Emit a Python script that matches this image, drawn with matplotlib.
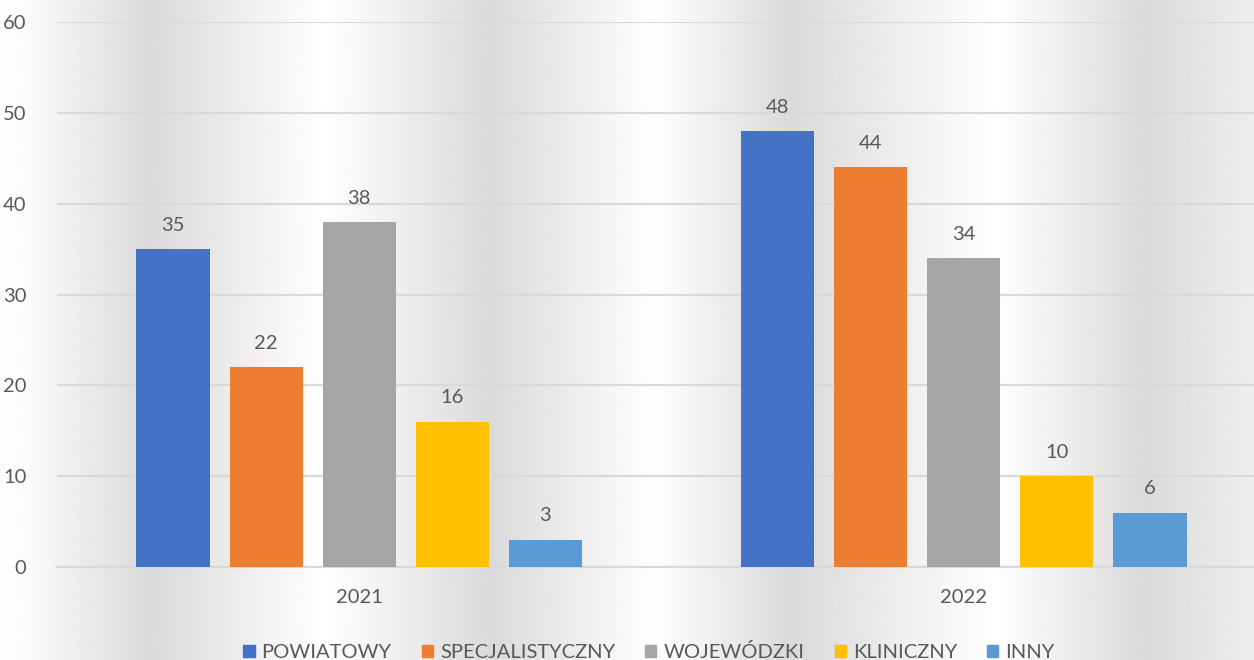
import numpy as np
import matplotlib.pyplot as plt
from matplotlib.patches import Patch

years = ["2021", "2022"]
series = ["POWIATOWY", "SPECJALISTYCZNY", "WOJEWÓDZKI", "KLINICZNY", "INNY"]
powiatowy = [35, 48]
specjalistyczny = [22, 44]
wojewodzki = [38, 34]
kliniczny = [16, 10]
inny = [3, 6]
values = [powiatowy, specjalistyczny, wojewodzki, kliniczny, inny]
colors = ["#4472C4", "#ED7D31", "#A5A5A5", "#FFC000", "#5B9BD5"]

plt.rcParams['font.family'] = ['Lato', 'DejaVu Sans']
txt = "#595959"

fig = plt.figure(figsize=(12.54, 6.6), dpi=100)

# background: vertical grey/white bands
bg = fig.add_axes([0, 0, 1, 1], zorder=-10)
px = np.arange(1254)
ctrl_x = [0, 10, 150, 325, 490, 655, 790, 995, 1145, 1254]
ctrl_v = [252, 255, 218, 255, 218, 255, 218, 255, 218, 238]
shade = np.interp(px, ctrl_x, ctrl_v) / 255.0
img = np.tile(shade, (10, 1))
bg.imshow(img, cmap="gray", vmin=0, vmax=1, aspect="auto", interpolation="bilinear")
bg.axis("off")

ax = fig.add_axes([57 / 1254, 93 / 660, 1 - 57 / 1254, 545 / 660])
ax.patch.set_alpha(0)

x = np.arange(len(years))
step = 0.154
width = 0.121
for i, (name, vals, c) in enumerate(zip(series, values, colors)):
    pos = x + (i - 2) * step
    bars = ax.bar(pos, vals, width, color=c, label=name, zorder=3)
    for b, v in zip(bars, vals):
        ax.annotate(str(v), (b.get_x() + b.get_width() / 2, v), xytext=(0, 11),
                    textcoords="offset points", ha="center", va="bottom",
                    fontsize=14.5, color=txt)

ax.set_xlim(-0.5, 1.48)
ax.set_ylim(0, 60)
ax.set_yticks(range(0, 61, 10))
ax.set_xticks(x)
ax.set_xticklabels(years)
ax.tick_params(axis="both", length=0, labelsize=14.5, labelcolor=txt)
ax.tick_params(axis="x", pad=16)
ax.tick_params(axis="y", pad=22)
for lab in ax.get_yticklabels():
    lab.set_horizontalalignment("right")
ax.grid(axis="y", color="#d9d9d9", linewidth=1.6, zorder=0)
for s in ["top", "right", "left"]:
    ax.spines[s].set_visible(False)
ax.spines["bottom"].set_color("#d9d9d9")
ax.spines["bottom"].set_linewidth(1.6)

handles = [Patch(color=c, label=n) for n, c in zip(series, colors)]
fig.legend(handles=handles, loc="center", bbox_to_anchor=(649 / 1254, 8 / 660),
           ncol=5, frameon=False, fontsize=14.5, labelcolor=txt,
           handlelength=0.55, handleheight=0.55, handletextpad=0.35,
           columnspacing=1.5)

fig.savefig("out.png", dpi=100)
